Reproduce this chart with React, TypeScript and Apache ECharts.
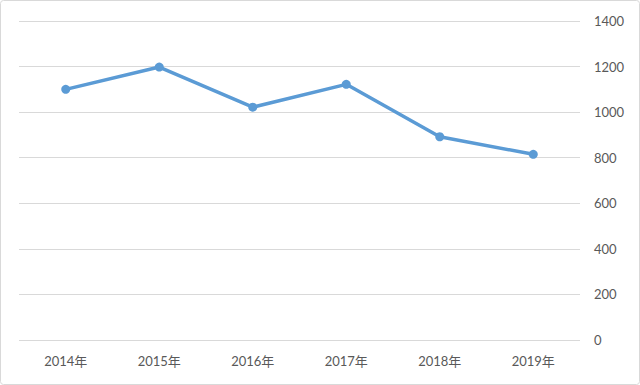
import React, { useEffect, useRef } from "react";
import * as echarts from "echarts";

const categories = ["2014年", "2015年", "2016年", "2017年", "2018年", "2019年"];
const values = [1100, 1198, 1022, 1122, 892, 815];
const yTicks = [0, 200, 400, 600, 800, 1000, 1200, 1400];

export default function App() {
  const ref = useRef<HTMLDivElement>(null);
  useEffect(() => {
    if (!ref.current) return;
    const chart = echarts.init(ref.current, undefined, { renderer: "svg" });
    const font = "Lato, 'Noto Sans CJK SC', sans-serif";
    chart.setOption({
      animation: false,
      backgroundColor: "#ffffff",
      graphic: [
        {
          type: "rect",
          shape: { x: 0.5, y: 0.5, width: 639, height: 384, r: 3 },
          style: { fill: "none", stroke: "#d9d9d9", lineWidth: 1 },
          silent: true,
        },
      ],
      grid: { left: 19, right: 60, top: 21, bottom: 45, containLabel: false },
      xAxis: {
        type: "category",
        data: categories,
        boundaryGap: true,
        axisLine: { show: false },
        axisTick: { show: false },
        axisLabel: { color: "#595959", fontSize: 13, fontFamily: font, margin: 14 },
      },
      yAxis: {
        type: "value",
        position: "right",
        min: yTicks[0],
        max: yTicks[yTicks.length - 1],
        interval: 200,
        axisLine: { show: false },
        axisTick: { show: false },
        splitLine: { lineStyle: { color: "#d9d9d9", width: 1 } },
        axisLabel: {
          color: "#595959",
          fontSize: 13,
          fontFamily: font,
          margin: 14,
          align: "left",
          formatter: (v: number) => String(v),
        },
      },
      series: [
        {
          type: "line",
          data: values,
          symbol: "circle",
          symbolSize: 9,
          lineStyle: { color: "#5B9BD5", width: 3.5 },
          itemStyle: { color: "#5B9BD5" },
        },
      ],
    });
    return () => chart.dispose();
  }, []);
  return (
    <div
      ref={ref}
      style={{ position: "fixed", left: 0, top: 0, width: 640, height: 385 }}
    />
  );
}
